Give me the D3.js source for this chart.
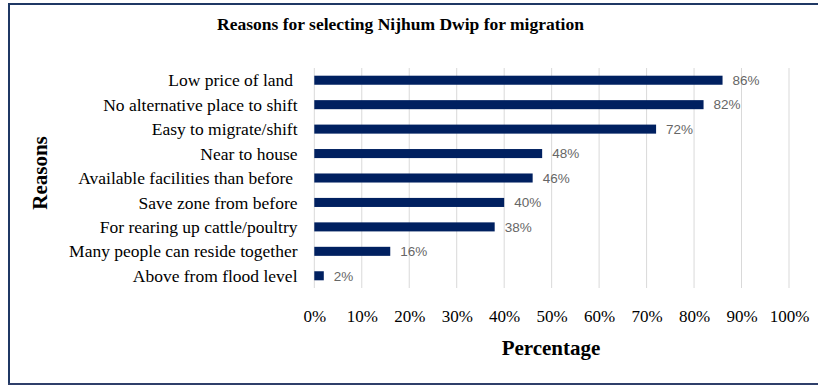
<!DOCTYPE html>
<html><head><meta charset="utf-8">
<script src="https://cdn.jsdelivr.net/npm/d3@7"></script>
<style>body{margin:0;background:#fff}svg{display:block}</style>
</head><body>
<svg id="c" width="818" height="385"></svg>
<script>
const categories = ["Low price of land ", "No alternative place to shift", "Easy to migrate/shift", "Near to house", "Available facilities than before ", "Save zone from before", "For rearing up cattle/poultry", "Many people can reside together", "Above from flood level"];
const values = [86, 82, 72, 48, 46, 40, 38, 16, 2];
const xTicks = [0, 10, 20, 30, 40, 50, 60, 70, 80, 90, 100];
const title = "Reasons for selecting Nijhum Dwip for migration";
const xTitle = "Percentage";
const yTitle = "Reasons";

const SERIF = "'Liberation Serif', 'Times New Roman', serif";
const SANS = "'Liberation Sans', Arial, sans-serif";
const svg = d3.select("#c");
const W = 818, H = 385;
const m = {left: 314.3, right: 29, top: 68, bottom: 97};
const x = d3.scaleLinear().domain([0, 100]).range([m.left, W - m.right]);
const y = d3.scaleBand().domain(categories).range([m.top, H - m.bottom]).paddingInner(0.63).paddingOuter(0.315);

// frame
svg.append("line").attr("x1", 9).attr("x2", 9).attr("y1", 3).attr("y2", 385).attr("stroke", "#1f3864").attr("stroke-width", 2);
svg.append("line").attr("x1", 8).attr("x2", W).attr("y1", 4).attr("y2", 4).attr("stroke", "#1f3864").attr("stroke-width", 2);
svg.append("line").attr("x1", 8).attr("x2", W).attr("y1", 384).attr("y2", 384).attr("stroke", "#2f3f6a").attr("stroke-width", 2);

// gridlines
svg.append("g").selectAll("line").data(xTicks).join("line")
  .attr("x1", d => x(d)).attr("x2", d => x(d))
  .attr("y1", m.top).attr("y2", H - m.bottom)
  .attr("stroke", "#d9d9d9").attr("stroke-width", 1);

// bars
svg.append("g").selectAll("rect").data(values).join("rect")
  .attr("x", x(0)).attr("y", (d, i) => y(categories[i]))
  .attr("width", d => x(d) - x(0)).attr("height", y.bandwidth())
  .attr("fill", "#002060");

// value labels
svg.append("g").selectAll("text").data(values).join("text")
  .attr("x", d => x(d) + 10).attr("y", (d, i) => y(categories[i]) + y.bandwidth() / 2)
  .attr("dy", "0.35em").style("font-family", SANS)
  .style("font-size", "13.5px").attr("fill", "#666666").text(d => d + "%");

// category labels
svg.append("g").selectAll("text").data(categories).join("text")
  .attr("x", 297.5).attr("y", d => y(d) + y.bandwidth() / 2).attr("dy", "0.35em")
  .attr("text-anchor", "end").style("font-family", SERIF)
  .style("font-size", "17.5px").attr("fill", "#000")
  .style("white-space", "pre").text(d => d);

// x ticks
const xAxis = d3.axisBottom(x).tickValues(xTicks).tickFormat(d => d + "%").tickSize(0).tickPadding(0);
const gx = svg.append("g").attr("transform", `translate(0, 316)`).call(xAxis);
gx.select(".domain").remove();
gx.selectAll("text").attr("dy", "0.35em").style("font-family", SERIF).style("font-size", "17px").attr("fill", "#000");

// titles
svg.append("text").attr("x", 400.5).attr("y", 30).attr("text-anchor", "middle")
  .style("font-family", SERIF).style("font-weight", "bold").style("font-size", "17.5px").text(title);
svg.append("text").attr("x", 551).attr("y", 355).attr("text-anchor", "middle")
  .style("font-family", SERIF).style("font-weight", "bold").style("font-size", "21px").text(xTitle);
svg.append("text").attr("transform", "translate(40,173) rotate(-90)").attr("dy", "0.35em").attr("text-anchor", "middle")
  .style("font-family", SERIF).style("font-weight", "bold").style("font-size", "21px").text(yTitle);
</script>
</body></html>
